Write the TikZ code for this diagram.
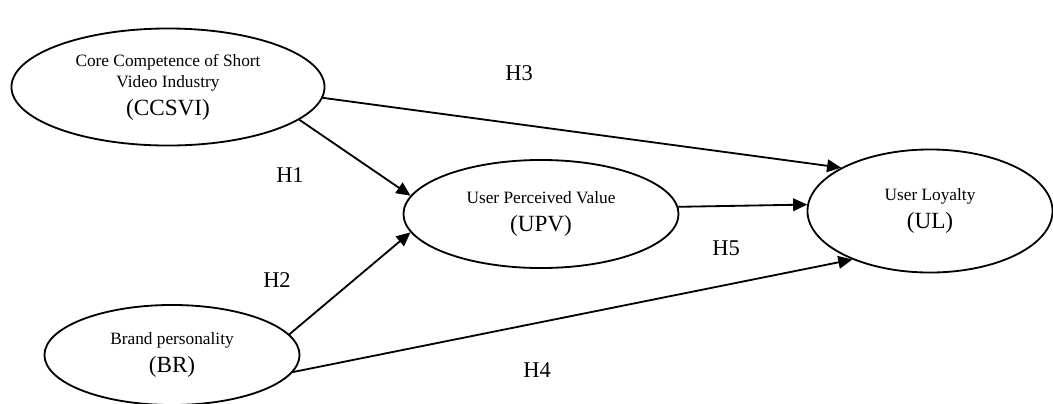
\documentclass[tikz,border=0pt]{standalone}
\usepackage{fontspec}
\setmainfont{Liberation Serif}
\usepackage{tikz}
\usetikzlibrary{shapes.geometric,arrows.meta,positioning}

\begin{document}
\begin{tikzpicture}[
    x=0.025cm, y=-0.025cm,
    var/.style={ellipse, draw=black, line width=1.3pt, inner sep=0pt,
                align=center, font=\fontsize{12.3}{15.5}\selectfont},
    path/.style={-{Triangle[length=10pt, width=9pt]}, line width=1.3pt},
    hyp/.style={font=\fontsize{16}{19}\selectfont}
]
\useasboundingbox (0,0) rectangle (1053,403);
\newcommand{\abbr}[1]{{\fontsize{16.5}{19}\selectfont #1}}
\node[var, minimum width=7.825cm, minimum height=2.925cm] (ccsvi) at (168,87)
    {Core Competence of Short\\ Video Industry\\[4pt] \abbr{(CCSVI)}};
\node[var, minimum width=6.875cm, minimum height=2.7cm] (upv) at (541,214)
    {User Perceived Value\\[4pt] \abbr{(UPV)}};
\node[var, minimum width=6.125cm, minimum height=3.075cm] (ul) at (930,211)
    {User Loyalty\\[4pt] \abbr{(UL)}};
\node[var, minimum width=6.375cm, minimum height=2.5cm] (br) at (172,355)
    {Brand personality\\[4pt] \abbr{(BR)}};

\draw[path] (ccsvi.-4) -- (ul.154);
\draw[path] (ccsvi.-14) -- (upv.172);
\draw[path] (upv.3) -- (ul.177);
\draw[path] (br.10) -- (upv.-172);
\draw[path] (br.-8) -- (ul.-148);

\node[hyp] (h3) at (519,73) {H3};
\node[hyp] (h1) at (290,175) {H1};
\node[hyp] (h2) at (277,280) {H2};
\node[hyp] (h5) at (726,248) {H5};
\node[hyp] (h4) at (537,370) {H4};
\end{tikzpicture}
\end{document}
